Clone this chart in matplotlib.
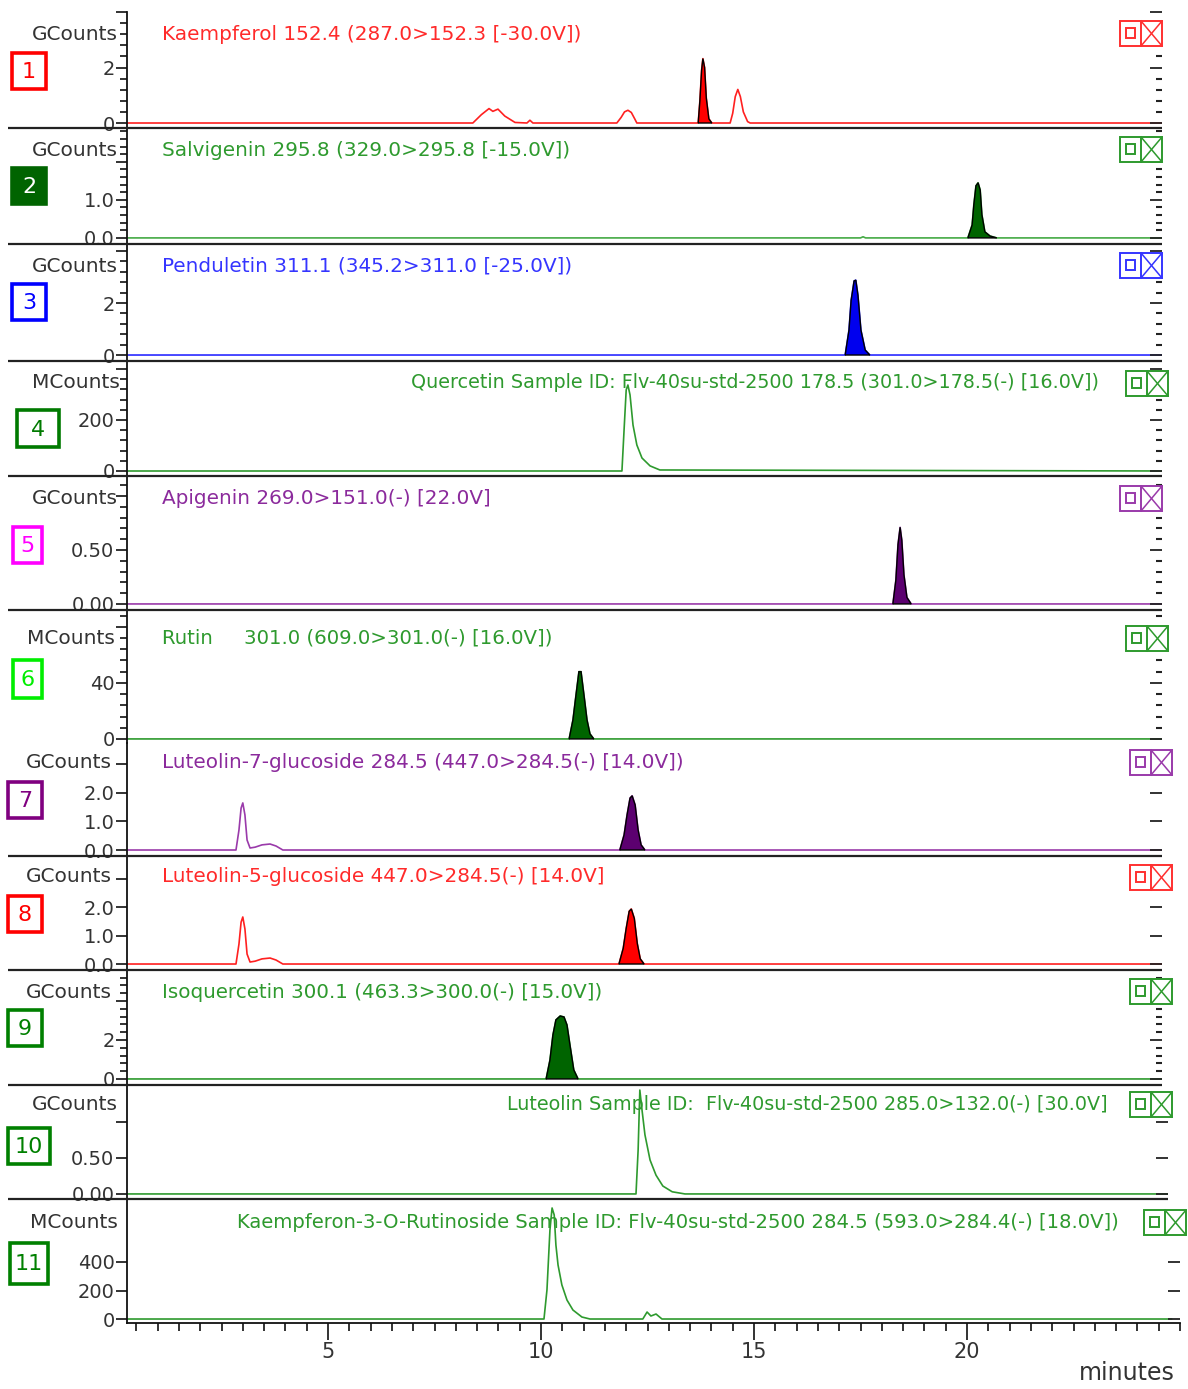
import numpy as np
import matplotlib
matplotlib.use("Agg")
import matplotlib.pyplot as plt
from matplotlib.patches import Rectangle
from matplotlib.ticker import MultipleLocator, FixedLocator

plt.rcParams['font.family'] = ['DejaVu Sans']

# ---------------- data ----------------
TITLES = [
    "Kaempferol 152.4 (287.0>152.3 [-30.0V])",
    "Salvigenin 295.8 (329.0>295.8 [-15.0V])",
    "Penduletin 311.1 (345.2>311.0 [-25.0V])",
    "Quercetin Sample ID: Flv-40su-std-2500 178.5 (301.0>178.5(-) [16.0V])",
    "Apigenin 269.0>151.0(-) [22.0V]",
    "Rutin     301.0 (609.0>301.0(-) [16.0V])",
    "Luteolin-7-glucoside 284.5 (447.0>284.5(-) [14.0V])",
    "Luteolin-5-glucoside 447.0>284.5(-) [14.0V]",
    "Isoquercetin 300.1 (463.3>300.0(-) [15.0V])",
    "Luteolin Sample ID:  Flv-40su-std-2500 285.0>132.0(-) [30.0V]",
    "Kaempferon-3-O-Rutinoside Sample ID: Flv-40su-std-2500 284.5 (593.0>284.4(-) [18.0V])",
]
UNITS = ["GCounts", "GCounts", "GCounts", "MCounts", "GCounts", "MCounts",
         "GCounts", "GCounts", "GCounts", "GCounts", "MCounts"]
NUMBERS = ["1", "2", "3", "4", "5", "6", "7", "8", "9", "10", "11"]

YLIMS = [(-0.18, 4.0), (-0.16, 2.89), (-0.23, 4.27), (-19.6, 431), (-0.056, 1.185),
         (-2.9, 92), (-0.21, 3.75), (-0.21, 3.79), (-0.31, 5.59), (-0.07, 1.51), (-28, 842)]
MAJOR_TICKS = [[0, 2, 4], [0, 1, 2], [0, 2, 4], [0, 200, 400], [0, 0.5, 1.0], [0, 40, 80],
               [0, 1, 2, 3], [0, 1, 2, 3], [0, 2, 4], [0, 0.5, 1.0], [0, 200, 400]]
MAJOR_LABELS = [["0", "2", ""], ["0.0", "1.0", ""], ["0", "2", ""], ["0", "200", ""],
                ["0.00", "0.50", ""], ["0", "40", ""], ["0.0", "1.0", "2.0", ""],
                ["0.0", "1.0", "2.0", ""], ["0", "2", ""], ["0.00", "0.50", ""],
                ["0", "200", "400"]]
MINOR_STEP = [0.4, 0.2, 0.4, 40, 0.1, 8, None, None, 0.4, None, None]

X_MAJOR = [5, 10, 15, 20]
X_MINOR_STEP = 0.5

# panel 1 Kaempferol (GCounts)
K_T = [0.28, 8.40, 8.60, 8.78, 8.87, 8.99, 9.15, 9.39, 9.67, 9.74, 9.81,
       11.78, 11.88, 11.96, 12.04, 12.12, 12.20, 12.25,
       14.44, 14.50, 14.56, 14.62, 14.68, 14.75, 14.85, 14.91, 24.7]
K_Y = [0, 0, 0.30, 0.52, 0.42, 0.50, 0.25, 0.02, 0, 0.10, 0,
       0, 0.20, 0.40, 0.46, 0.38, 0.15, 0,
       0, 0.35, 0.95, 1.21, 0.95, 0.40, 0.05, 0, 0]
K_FT = [13.69, 13.73, 13.77, 13.80, 13.84, 13.88, 13.94, 14.01]
K_FY = [0, 0.80, 1.90, 2.32, 2.00, 0.90, 0.15, 0]

# panel 2 Salvigenin
S_T = [0.28, 17.50, 17.56, 17.62, 24.7]
S_Y = [0, 0, 0.03, 0, 0]
S_FT = [20.02, 20.12, 20.16, 20.21, 20.26, 20.31, 20.35, 20.42, 20.54, 20.70]
S_FY = [0, 0.34, 0.87, 1.37, 1.45, 1.26, 0.61, 0.16, 0.05, 0]

# panel 3 Penduletin
P_T = [0.28, 24.7]
P_Y = [0, 0]
P_FT = [17.14, 17.23, 17.28, 17.35, 17.39, 17.44, 17.51, 17.61, 17.72]
P_FY = [0, 0.96, 2.10, 2.85, 2.88, 2.30, 0.96, 0.19, 0]

# panel 4 Quercetin (MCounts)
Q_T = [0.28, 11.90, 11.95, 12.00, 12.04, 12.09, 12.16, 12.25, 12.37, 12.56, 12.79, 24.7]
Q_Y = [0, 0, 161, 318, 337, 298, 180, 102, 51, 20, 4, 0]

# panel 5 Apigenin
A_T = [0.28, 24.7]
A_Y = [0, 0]
A_FT = [18.26, 18.33, 18.38, 18.43, 18.47, 18.52, 18.59, 18.69]
A_FY = [0, 0.22, 0.55, 0.71, 0.59, 0.27, 0.06, 0]

# panel 6 Rutin (MCounts)
R_T = [0.28, 24.7]
R_Y = [0, 0]
R_FT = [10.66, 10.75, 10.82, 10.89, 10.94, 11.01, 11.08, 11.15, 11.24]
R_FY = [0, 13.6, 31, 48, 48, 31, 13.6, 3.6, 0]

# panel 7 Luteolin-7-glucoside
L7_T = [0.28, 2.84, 2.91, 2.96, 3.00, 3.05, 3.10, 3.17, 3.29, 3.45, 3.64, 3.78, 3.94, 24.7]
L7_Y = [0, 0, 0.70, 1.47, 1.65, 1.23, 0.35, 0.07, 0.10, 0.18, 0.21, 0.14, 0, 0]
L7_FT = [11.85, 11.95, 12.02, 12.09, 12.14, 12.21, 12.28, 12.35, 12.44]
L7_FY = [0, 0.53, 1.23, 1.82, 1.90, 1.58, 0.70, 0.18, 0]

# panel 8 Luteolin-5-glucoside
L5_T = [0.28, 2.84, 2.91, 2.96, 3.00, 3.05, 3.10, 3.17, 3.29, 3.45, 3.64, 3.78, 3.94, 24.7]
L5_Y = [0, 0, 0.70, 1.47, 1.65, 1.23, 0.35, 0.07, 0.10, 0.18, 0.21, 0.14, 0, 0]
L5_FT = [11.83, 11.93, 12.00, 12.07, 12.12, 12.19, 12.26, 12.33, 12.42]
L5_FY = [0, 0.55, 1.25, 1.85, 1.93, 1.60, 0.72, 0.18, 0]

# panel 9 Isoquercetin
I_T = [0.28, 24.7]
I_Y = [0, 0]
I_FT = [10.12, 10.21, 10.28, 10.35, 10.45, 10.54, 10.61, 10.68, 10.77, 10.87]
I_FY = [0, 0.97, 2.26, 3.03, 3.23, 3.18, 2.77, 1.74, 0.46, 0]

# panel 10 Luteolin
LU_T = [0.28, 12.23, 12.28, 12.32, 12.37, 12.44, 12.56, 12.70, 12.86, 13.08, 13.38, 24.8]
LU_Y = [0, 0, 0.61, 1.44, 1.17, 0.82, 0.47, 0.26, 0.11, 0.03, 0, 0]

# panel 11 Kaempferol-3-O-rutinoside (MCounts)
KR_T = [0.28, 10.07, 10.14, 10.21, 10.26, 10.31, 10.35, 10.40, 10.49, 10.61, 10.75, 10.96,
        11.15, 12.39, 12.49, 12.58, 12.70, 12.84, 24.8]
KR_Y = [0, 0, 204, 625, 779, 730, 519, 379, 239, 133, 63, 14, 0, 0, 49, 21, 35, 0, 0]

TRACES = [(K_T, K_Y, K_FT, K_FY), (S_T, S_Y, S_FT, S_FY), (P_T, P_Y, P_FT, P_FY),
          (Q_T, Q_Y, None, None), (A_T, A_Y, A_FT, A_FY), (R_T, R_Y, R_FT, R_FY),
          (L7_T, L7_Y, L7_FT, L7_FY), (L5_T, L5_Y, L5_FT, L5_FY), (I_T, I_Y, I_FT, I_FY),
          (LU_T, LU_Y, None, None), (KR_T, KR_Y, None, None)]

# ---------------- styles ----------------
GREEN = '#2e9a2e'
LINE_COLORS = ['#ff2020', '#45aa45', '#2a2aff', GREEN, '#9a3aaa', GREEN, '#9a3aaa',
               '#ff2020', GREEN, GREEN, GREEN]
TITLE_COLORS = ['#ff2a2a', GREEN, '#3535ff', GREEN, '#8b2a9c', GREEN, '#8b2a9c',
                '#ff2a2a', GREEN, GREEN, GREEN]
FILL_COLORS = ['#ff0000', '#006400', '#0000ee', None, '#5c0070', '#006400', '#5c0070',
               '#ff0000', '#006400', None, None]
BOX_COLORS = ['#ff0000', '#006400', '#0000ff', '#007a00', '#ff00ff', '#00ee00', '#800080',
              '#ff0000', '#008000', '#008000', '#008000']
ICON_COLORS = ['#ff3030', GREEN, '#3535ff', GREEN, '#9a3aaa', GREEN, '#9a3aaa',
               '#ff3030', GREEN, GREEN, GREEN]
TITLE_FS = [14.4, 14.4, 14.4, 13.8, 14.4, 14.2, 14.4, 14.4, 14.3, 13.8, 14.1]

# ---------------- layout (pixels) ----------------
W, H = 1188, 1389
LEFT = 127
TOP = [12, 128, 244, 361, 476, 610, 743, 856, 970, 1085, 1199]
BOT = [128, 244, 361, 476, 610, 743, 856, 970, 1085, 1199, 1323]
RIGHT = [1162] * 9 + [1168, 1180]
PX0, PXS = 115.0, 42.6          # pixel of t=0, pixels per minute
TITLE_XY = [(162, 34), (162, 150), (162, 266), (411, 383), (162, 499), (162, 638),
            (162, 763), (162, 877), (162, 992), (507, 1104), (237, 1222)]
UNIT_XY = [(118, 34), (118, 150), (118, 266), (120, 382), (118, 499), (115, 638),
           (112, 763), (112, 877), (112, 992), (118, 1104), (118, 1222)]
BOXES = [(12, 53, 46, 89), (12, 168, 46, 204), (12, 284, 46, 320), (17, 410, 59, 447),
         (13, 527, 42, 563), (13, 660, 42, 698), (8, 782, 42, 818), (8, 896, 42, 932),
         (8, 1010, 42, 1046), (8, 1128, 50, 1164), (10, 1243, 48, 1284)]
ICONS = [(1120, 21), (1120, 137), (1120, 253), (1126, 371), (1120, 486), (1126, 626),
         (1130, 750), (1130, 865), (1130, 979), (1130, 1092), (1144, 1210)]

fig = plt.figure(figsize=(W / 100, H / 100), dpi=100)
fig.patch.set_facecolor('white')

TXT = '#333333'
FS = 14.5

for i in range(11):
    l, r, t, b = LEFT, RIGHT[i], TOP[i], BOT[i]
    ax = fig.add_axes([l / W, 1 - b / H, (r - l) / W, (b - t) / H])
    ax.set_xlim((l - PX0) / PXS, (r - PX0) / PXS)
    ax.set_ylim(*YLIMS[i])
    for s in ['top', 'right', 'bottom']:
        ax.spines[s].set_visible(False)
    ax.spines['left'].set_linewidth(1.3)
    ax.spines['left'].set_color('#111111')
    ax.patch.set_alpha(0)

    tt, yy, ft, fy = TRACES[i]
    if ft is not None:
        allt = np.concatenate([tt, ft])
        ally = np.concatenate([yy, fy])
        order = np.argsort(allt, kind='stable')
        ax.plot(allt[order], ally[order], color=LINE_COLORS[i], lw=1.2, zorder=2)
        ax.fill(ft, fy, facecolor=FILL_COLORS[i], edgecolor='black', lw=1.0, zorder=3)
    else:
        ax.plot(tt, yy, color=LINE_COLORS[i], lw=1.2, zorder=2)

    if i == 10:
        ax.spines['bottom'].set_visible(True)
        ax.spines['bottom'].set_linewidth(1.3)
        ax.spines['bottom'].set_color('#111111')
        ax.xaxis.set_major_locator(FixedLocator(X_MAJOR))
        ax.xaxis.set_minor_locator(MultipleLocator(X_MINOR_STEP))
        ax.tick_params(axis='x', which='major', direction='out', length=12, width=1.2,
                       colors='#111111', labelcolor=TXT, labelsize=15, pad=2)
        ax.tick_params(axis='x', which='minor', direction='out', length=6, width=1.2,
                       colors='#111111')
    else:
        ax.tick_params(axis='x', which='both', bottom=False, labelbottom=False)

    # right-side ticks (inside)
    ax2 = ax.twinx()
    ax2.set_ylim(*YLIMS[i])
    for s in ax2.spines.values():
        s.set_visible(False)
    ax2.yaxis.set_major_locator(FixedLocator(MAJOR_TICKS[i]))
    if MINOR_STEP[i]:
        ax2.yaxis.set_minor_locator(MultipleLocator(MINOR_STEP[i]))
    ax2.tick_params(axis='y', which='major', direction='in', length=9, width=1.3,
                    colors='#222222', labelright=False)
    ax2.tick_params(axis='y', which='minor', direction='in', length=4, width=1.5,
                    colors='#222222')

    ax.yaxis.set_major_locator(FixedLocator(MAJOR_TICKS[i]))
    ax.set_yticklabels(MAJOR_LABELS[i])
    if MINOR_STEP[i]:
        ax.yaxis.set_minor_locator(MultipleLocator(MINOR_STEP[i]))
    ax.tick_params(axis='y', which='major', direction='out', length=8, width=1.2,
                   colors='#111111', labelcolor=TXT, labelsize=14, pad=1)
    ax.tick_params(axis='y', which='minor', direction='out', length=5, width=1.2,
                   colors='#111111')

# ---------------- overlay decorations ----------------
ov = fig.add_axes([0, 0, 1, 1], zorder=10)
ov.set_xlim(0, W)
ov.set_ylim(H, 0)
ov.axis('off')
ov.patch.set_alpha(0)

for i in range(10):
    if i == 5:
        continue
    ov.plot([8, RIGHT[i]], [BOT[i], BOT[i]], color='#222222', lw=1.6,
            solid_capstyle='butt')

for i in range(11):
    x, y = TITLE_XY[i]
    ov.text(x, y, TITLES[i], color=TITLE_COLORS[i], fontsize=TITLE_FS[i],
            ha='left', va='center')
    ux, uy = UNIT_XY[i]
    ov.text(ux, uy, UNITS[i], color=TXT, fontsize=FS, ha='right', va='center')

    x0, y0, x1, y1 = BOXES[i]
    filled = (i == 1)
    ov.add_patch(Rectangle((x0, y0), x1 - x0, y1 - y0,
                           facecolor=BOX_COLORS[i] if filled else 'white',
                           edgecolor=BOX_COLORS[i], lw=2.6))
    ov.text((x0 + x1) / 2, (y0 + y1) / 2 + 1, NUMBERS[i],
            color='white' if filled else BOX_COLORS[i], fontsize=16,
            ha='center', va='center')

    ix, iy = ICONS[i]
    c = ICON_COLORS[i]
    w, h = 42, 25
    ov.add_patch(Rectangle((ix, iy), w, h, facecolor='white', edgecolor=c, lw=1.4))
    ov.plot([ix + w / 2, ix + w / 2], [iy, iy + h], color=c, lw=1.4)
    ov.add_patch(Rectangle((ix + 6, iy + 7), 9, 10, facecolor='none', edgecolor=c, lw=1.4))
    ov.plot([ix + w / 2, ix + w], [iy, iy + h], color=c, lw=1.1)
    ov.plot([ix + w / 2, ix + w], [iy + h, iy], color=c, lw=1.1)

ov.text(1175, 1373, "minutes", color=TXT, fontsize=17, ha='right', va='center')

fig.savefig("out.png", dpi=100, facecolor='white')
